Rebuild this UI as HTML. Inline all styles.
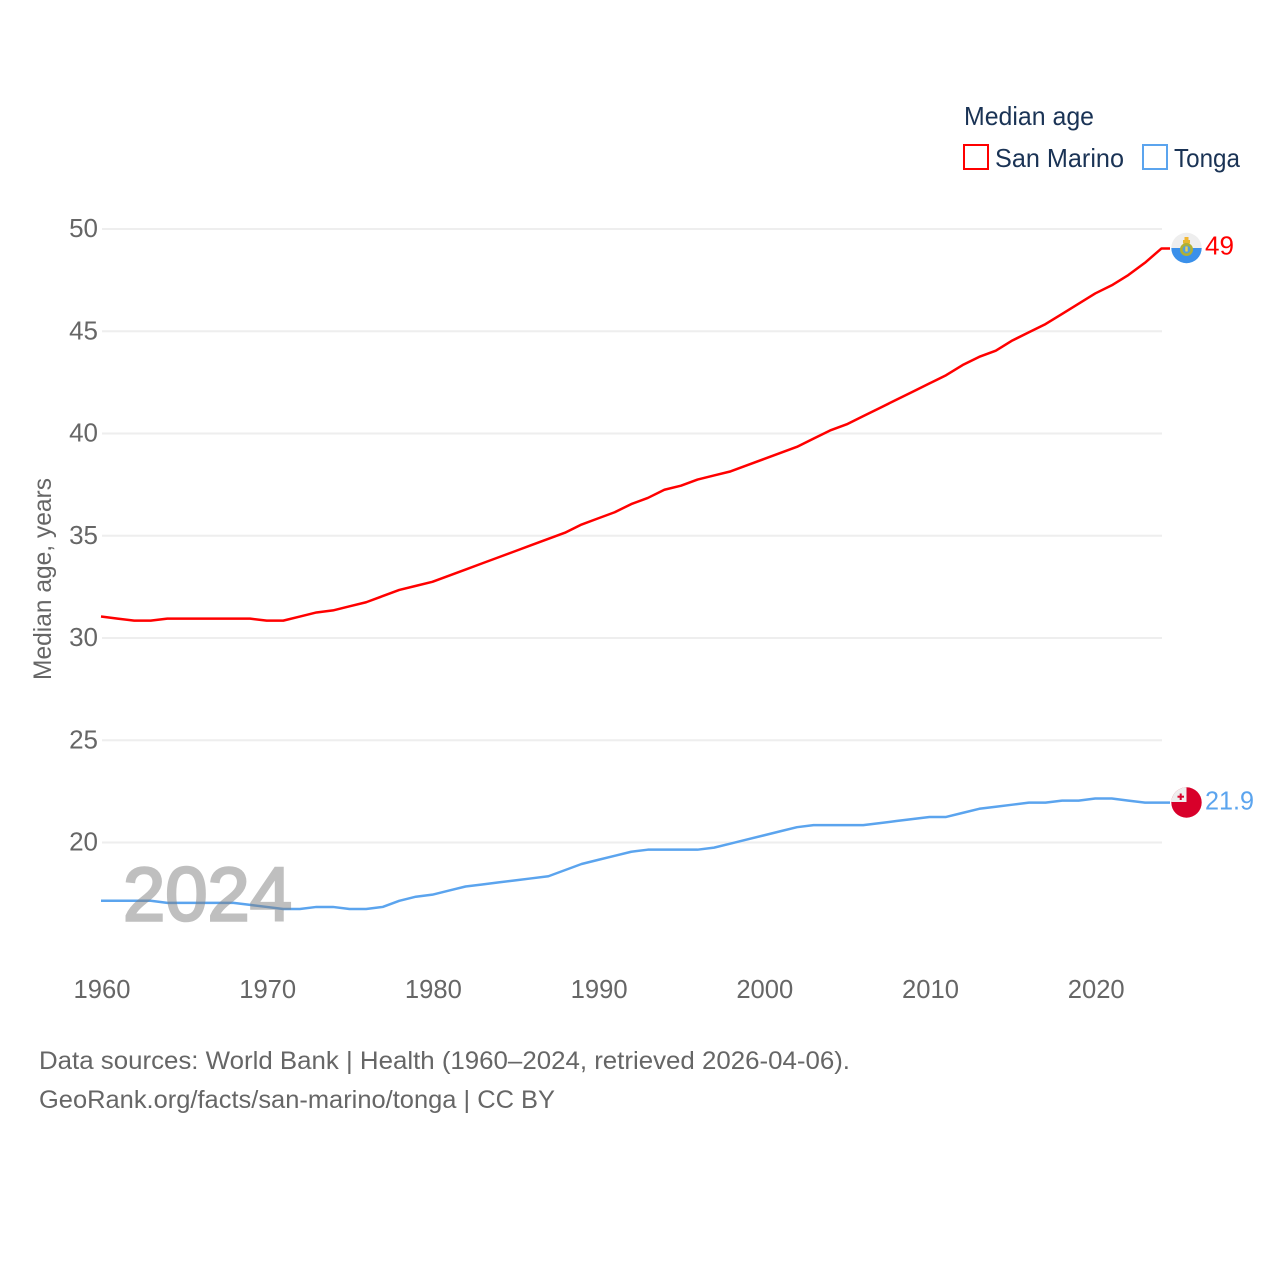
<!DOCTYPE html>
<html lang="en">
<head>
<meta charset="utf-8">
<title>Median age: San Marino and Tonga</title>
<style>
html,body{margin:0;padding:0;background:#fff;width:1280px;height:1280px;overflow:hidden}
svg{display:block}
text{font-family:"Liberation Sans",sans-serif}
</style>
</head>
<body>
<svg id="chart" xmlns="http://www.w3.org/2000/svg" width="1280" height="1280" viewBox="0 0 1280 1280">
  <rect width="1280" height="1280" fill="#fff"/>
  <g id="grid"></g>
  <g id="yticks"></g>
  <g id="xticks"></g>
  <text transform="translate(51,579) rotate(-90)" text-anchor="middle" font-size="25" fill="#666" textLength="202" lengthAdjust="spacingAndGlyphs">Median age, years</text>
  <g id="series"></g>
  <text x="123" y="920.5" font-size="76" fill="#808080" stroke="#808080" stroke-width="2.6" opacity="0.5" textLength="169" lengthAdjust="spacingAndGlyphs">2024</text>

  <g>
    <text x="964" y="125" font-size="26" fill="#1a3355" textLength="130" lengthAdjust="spacingAndGlyphs">Median age</text>
    <rect x="964" y="145" width="24" height="24" fill="#fff" stroke="#ff0000" stroke-width="2"/>
    <text x="995" y="167" font-size="26" fill="#1a3355" textLength="129" lengthAdjust="spacingAndGlyphs">San Marino</text>
    <rect x="1143" y="145" width="24" height="24" fill="#fff" stroke="#5ba4ee" stroke-width="2"/>
    <text x="1174" y="167" font-size="26" fill="#1a3355" textLength="66" lengthAdjust="spacingAndGlyphs">Tonga</text>
  </g>

  <defs>
    <clipPath id="clip-sm"><circle cx="1186.5" cy="248" r="15.2"/></clipPath>
    <clipPath id="clip-to"><circle cx="1186.5" cy="802.5" r="15.2"/></clipPath>
  </defs>
  <g clip-path="url(#clip-sm)">
    <rect x="1170" y="232" width="34" height="16" fill="#eeeeee"/>
    <rect x="1170" y="248" width="34" height="17" fill="#3a90ea"/>
    <rect x="1184.5" y="237" width="4" height="5" fill="#f2b632"/>
    <rect x="1183" y="240" width="7" height="3.5" fill="#e8b830"/>
    <circle cx="1186.5" cy="249.5" r="5.2" fill="#4f9fe0" stroke="#b0b034" stroke-width="2.6"/>
    <rect x="1185.3" y="246.5" width="2.4" height="5" fill="#f0d050"/>
  </g>
  <g clip-path="url(#clip-to)">
    <rect x="1170" y="786" width="34" height="34" fill="#d8002a"/>
    <rect x="1170" y="786" width="16.5" height="16" fill="#eeeeee"/>
    <rect x="1179.7" y="793.5" width="2" height="6.5" fill="#d8002a"/>
    <rect x="1177.5" y="795.7" width="6.5" height="2" fill="#d8002a"/>
  </g>
  <text x="1205" y="254.5" font-size="26" fill="#ff0000" textLength="29" lengthAdjust="spacingAndGlyphs">49</text>
  <text x="1205" y="809.5" font-size="26" fill="#5ba4ee" textLength="49" lengthAdjust="spacingAndGlyphs">21.9</text>

  <text x="39" y="1069" font-size="25" fill="#666" textLength="811" lengthAdjust="spacingAndGlyphs">Data sources: World Bank | Health (1960–2024, retrieved 2026-04-06).</text>
  <text x="39" y="1108" font-size="25" fill="#666" textLength="516" lengthAdjust="spacingAndGlyphs">GeoRank.org/facts/san-marino/tonga | CC BY</text>
</svg>
<script>
const startYear = 1960;
const yTickValues = [50, 45, 40, 35, 30, 25, 20];
const xTickValues = [1960, 1970, 1980, 1990, 2000, 2010, 2020];
const sanMarinoValues = [31.0,30.9,30.8,30.8,30.9,30.9,30.9,30.9,30.9,30.9,30.8,30.8,31.0,31.2,31.3,31.5,31.7,32.0,32.3,32.5,32.7,33.0,33.3,33.6,33.9,34.2,34.5,34.8,35.1,35.5,35.8,36.1,36.5,36.8,37.2,37.4,37.7,37.9,38.1,38.4,38.7,39.0,39.3,39.7,40.1,40.4,40.8,41.2,41.6,42.0,42.4,42.8,43.3,43.7,44.0,44.5,44.9,45.3,45.8,46.3,46.8,47.2,47.7,48.3,49.0];
const tongaValues = [17.1,17.1,17.1,17.1,17.0,17.0,17.0,17.0,17.0,16.9,16.8,16.7,16.7,16.8,16.8,16.7,16.7,16.8,17.1,17.3,17.4,17.6,17.8,17.9,18.0,18.1,18.2,18.3,18.6,18.9,19.1,19.3,19.5,19.6,19.6,19.6,19.6,19.7,19.9,20.1,20.3,20.5,20.7,20.8,20.8,20.8,20.8,20.9,21.0,21.1,21.2,21.2,21.4,21.6,21.7,21.8,21.9,21.9,22.0,22.0,22.1,22.1,22.0,21.9,21.9];

const NS = 'http://www.w3.org/2000/svg';
const xScale = function (year) { return 102 + (year - 1960) * 16.5703; };
const yScale = function (value) { return 842.5 - (value - 20) * 20.45; };
const lineOffset = -1;

const gridGroup = document.getElementById('grid');
const yTickGroup = document.getElementById('yticks');
const xTickGroup = document.getElementById('xticks');
const seriesGroup = document.getElementById('series');

yTickValues.forEach(function (value) {
  const line = document.createElementNS(NS, 'line');
  
  
  line.setAttribute('x1', 102);
  line.setAttribute('x2', 1162);
  line.setAttribute('y1', yScale(value));
  line.setAttribute('y2', yScale(value));
  line.setAttribute('stroke', '#eeeeee');
  line.setAttribute('stroke-width', 2);
  gridGroup.appendChild(line);

  const label = document.createElementNS(NS, 'text');
  
  
  label.setAttribute('x', 98);
  label.setAttribute('y', yScale(value) + 8);
  label.setAttribute('text-anchor', 'end');
  label.setAttribute('font-size', 26);
  label.setAttribute('fill', '#666');
  label.textContent = String(value);
  yTickGroup.appendChild(label);
});

xTickValues.forEach(function (year) {
  const label = document.createElementNS(NS, 'text');
  
  
  label.setAttribute('x', xScale(year));
  label.setAttribute('y', 998);
  label.setAttribute('text-anchor', 'middle');
  label.setAttribute('font-size', 25.6);
  label.setAttribute('fill', '#666');
  label.textContent = String(year);
  xTickGroup.appendChild(label);
});

function buildPoints(values) {
  const coords = values.map(function (value, i) {
    return (xScale(startYear + i) + lineOffset).toFixed(2) + ',' + (yScale(value) + lineOffset).toFixed(2);
  });
  const last = values[values.length - 1];
  coords.push('1170,' + (yScale(last) + lineOffset).toFixed(2));
  return coords.join(' ');
}

const sanMarinoLine = document.createElementNS(NS, 'polyline');


sanMarinoLine.setAttribute('points', buildPoints(sanMarinoValues));
sanMarinoLine.setAttribute('fill', 'none');
sanMarinoLine.setAttribute('stroke', '#ff0000');
sanMarinoLine.setAttribute('stroke-width', 2.5);
sanMarinoLine.setAttribute('stroke-linejoin', 'round');
seriesGroup.appendChild(sanMarinoLine);

const tongaLine = document.createElementNS(NS, 'polyline');


tongaLine.setAttribute('points', buildPoints(tongaValues));
tongaLine.setAttribute('fill', 'none');
tongaLine.setAttribute('stroke', '#5ba4ee');
tongaLine.setAttribute('stroke-width', 2.5);
tongaLine.setAttribute('stroke-linejoin', 'round');
seriesGroup.appendChild(tongaLine);
</script>
</body>
</html>
